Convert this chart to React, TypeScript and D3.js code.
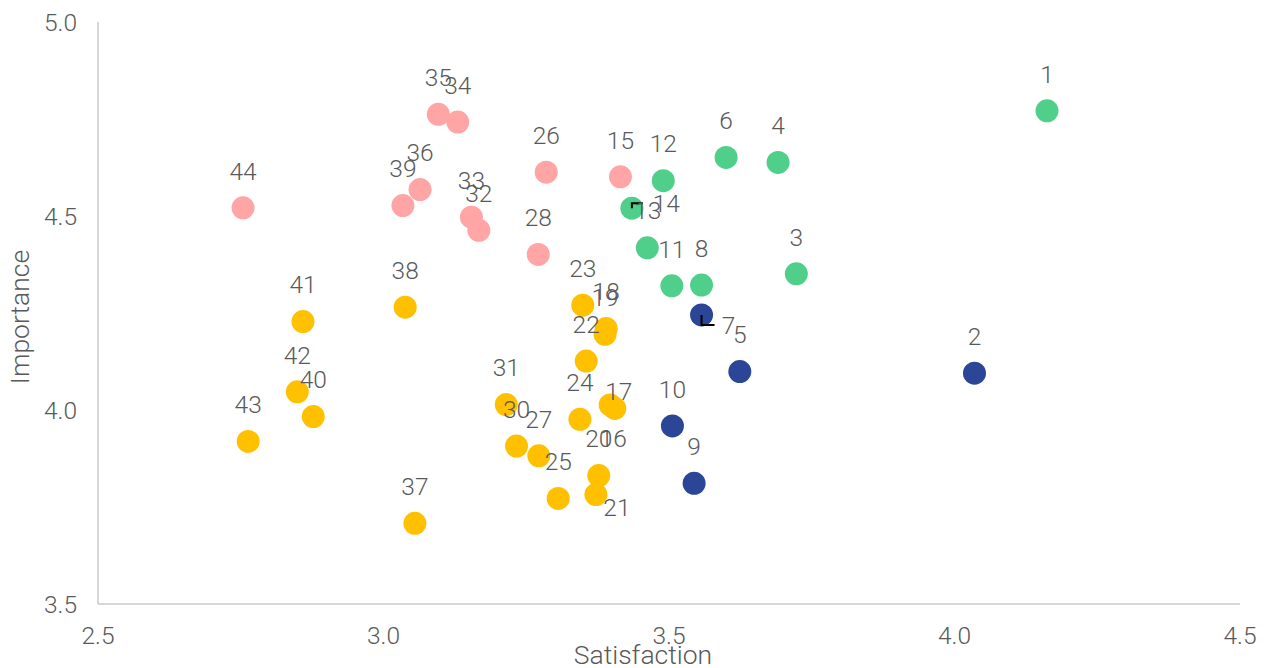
import * as d3 from "d3";

// point ids, satisfaction (x), importance (y), group
const ids = [
  1, 2, 3, 4, 5, 6, 7, 8, 9, 10, 11, 12, 13, 14, 15, 16, 17, 18, 19, 20, 21, 22,
  23, 24, 25, 26, 27, 28, 30, 31, 32, 33, 34, 35, 36, 37, 38, 39, 40, 41, 42, 43, 44,
];
const satisfaction = [
  4.162, 4.035, 3.723, 3.691, 3.624, 3.6, 3.557, 3.557, 3.544, 3.506, 3.505, 3.49,
  3.435, 3.462, 3.415, 3.397, 3.405, 3.39, 3.388, 3.377, 3.372, 3.355, 3.349, 3.344,
  3.306, 3.285, 3.272, 3.271, 3.233, 3.215, 3.167, 3.154, 3.13, 3.096, 3.064, 3.055,
  3.038, 3.034, 2.877, 2.859, 2.849, 2.763, 2.754,
];
const importance = [
  4.771, 4.095, 4.351, 4.638, 4.099, 4.651, 4.245, 4.322, 3.811, 3.959, 4.32, 4.591,
  4.52, 4.418, 4.601, 4.013, 4.004, 4.21, 4.195, 3.831, 3.782, 4.126, 4.27, 3.976,
  3.772, 4.613, 3.882, 4.401, 3.907, 4.014, 4.463, 4.497, 4.742, 4.762, 4.568, 3.708,
  4.265, 4.527, 3.983, 4.228, 4.047, 3.919, 4.521,
];
const groups = [
  "green", "navy", "green", "green", "navy", "green", "navy", "green", "navy", "navy",
  "green", "green", "green", "green", "pink", "yellow", "yellow", "yellow", "yellow",
  "yellow", "yellow", "yellow", "yellow", "yellow", "yellow", "pink", "yellow", "pink",
  "yellow", "yellow", "pink", "pink", "pink", "pink", "pink", "yellow", "yellow", "pink",
  "yellow", "yellow", "yellow", "yellow", "pink",
];
const groupOrder = ["yellow", "pink", "green", "navy"];

const xTicks = [2.5, 3.0, 3.5, 4.0, 4.5];
const yTicks = [3.5, 4.0, 4.5, 5.0];

const colors: Record<string, string> = {
  green: "#50CF8B",
  navy: "#2B4597",
  pink: "#FFA5A5",
  yellow: "#FFC000",
};

// labels that were moved off their default spot (center offset from the point)
const labelMoves: Record<number, [number, number]> = {
  13: [16, 2],
  14: [19, -45],
  7: [27, 10],
  16: [3, 33],
  17: [4, -17],
  21: [21, 13],
};
// leader lines for moved labels
const leaders: Record<number, [number, number][]> = {
  13: [[0, -5], [11, -5]],
  7: [[0, 10], [13, 10]],
};

const W = 1266;
const H = 668;
const font = "Roboto, 'Noto Sans', sans-serif";
const textColor = "#595959";

export default function App() {
  const x = d3.scaleLinear().domain([2.5, 4.5]).range([98, 1240]);
  const y = d3.scaleLinear().domain([3.5, 5.0]).range([604, 22]);

  const points = ids.map((id, i) => ({
    id,
    sx: satisfaction[i],
    iy: importance[i],
    g: groups[i],
  }));

  const line = d3.line();

  return (
    <svg
      width={W}
      height={H}
      style={{ position: "absolute", left: 0, top: 0, background: "#fff" }}
      fontFamily={font}
      fontWeight={300}
    >
      <line x1={x(2.5)} x2={x(2.5)} y1={y(5)} y2={y(3.5)} stroke="#c9c9c9" strokeWidth={1.5} />
      <line x1={x(2.5)} x2={x(4.5)} y1={y(3.5)} y2={y(3.5)} stroke="#c9c9c9" strokeWidth={1.5} />

      {yTicks.map((t) => (
        <text key={"y" + t} x={77} y={y(t) + 8.5} textAnchor="end" fontSize={24.5} fill={textColor}>
          {t.toFixed(1)}
        </text>
      ))}
      {xTicks.map((t) => (
        <text key={"x" + t} x={x(t)} y={643.5} textAnchor="middle" fontSize={24.5} fill={textColor}>
          {t.toFixed(1)}
        </text>
      ))}

      <text x={643} y={664} textAnchor="middle" fontSize={26.5} fill={textColor}>
        Satisfaction
      </text>
      <text
        transform={`translate(29,${317}) rotate(-90)`}
        textAnchor="middle"
        fontSize={26.5}
        fill={textColor}
      >
        Importance
      </text>

      {groupOrder.map((g) =>
        points
          .filter((p) => p.g === g)
          .map((p) => (
            <circle key={p.id} cx={x(p.sx)} cy={y(p.iy)} r={11.5} fill={colors[g]} />
          ))
      )}

      {points
        .filter((p) => leaders[p.id])
        .map((p) => {
          const px = x(p.sx);
          const py = y(p.iy);
          const pts: [number, number][] = [[px, py], ...leaders[p.id].map(([dx, dy]) => [px + dx, py + dy] as [number, number])];
          return <path key={"l" + p.id} d={line(pts) || ""} fill="none" stroke="#000" strokeWidth={2} />;
        })}

      {points.map((p) => {
        const [dx, dy] = labelMoves[p.id] || [0, -37];
        return (
          <text
            key={"t" + p.id}
            x={x(p.sx) + dx}
            y={y(p.iy) + dy + 8.8}
            textAnchor="middle"
            fontSize={24.5}
            fill={textColor}
          >
            {p.id}
          </text>
        );
      })}
    </svg>
  );
}
